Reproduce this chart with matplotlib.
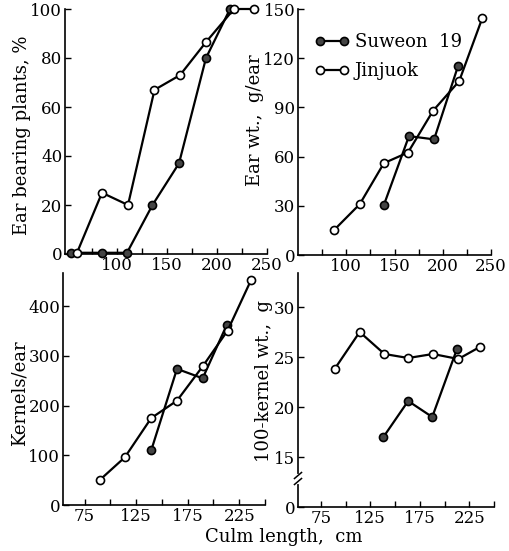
import matplotlib
matplotlib.use("Agg")
import matplotlib.pyplot as plt

plt.rcParams['font.family'] = ['DejaVu Serif']

# Ear bearing plants, %
tl_suw_x = [54, 85, 110, 135.5, 162, 189, 213]
tl_suw_y = [0.5, 0.5, 0.5, 20, 37, 80, 100]
tl_jin_x = [60, 85, 111, 137.5, 163, 189, 217, 237]
tl_jin_y = [0.5, 25, 20, 67, 73, 86.5, 100, 100]

# Ear wt., g/ear
tr_suw_x = [139, 165, 191, 216]
tr_suw_y = [30.5, 72.5, 70.5, 115.5]
tr_jin_x = [87, 114, 139, 164, 190, 217, 241]
tr_jin_y = [15, 31, 56, 62.5, 88, 106, 144.5]

# Kernels/ear
bl_suw_x = [139.6, 164.6, 189.5, 213]
bl_suw_y = [110, 274, 255, 363]
bl_jin_x = [89.5, 114, 139.6, 164.6, 189.5, 213.7, 236.3]
bl_jin_y = [50, 96, 175, 210, 279, 351, 452]

# 100-kernel wt., g  (axis broken: value 10 position labelled 0)
br_suw_x = [138.3, 163.3, 187.6, 212.6]
br_suw_y = [17, 20.6, 19, 25.8]
br_jin_x = [89, 114.3, 139.3, 163.3, 188.3, 214, 235.6]
br_jin_y = [23.8, 27.5, 25.3, 24.9, 25.3, 24.8, 26]

W, H = 510, 551
fig = plt.figure(figsize=(W / 100, H / 100), dpi=100)

def box(l, t, r, b):
    return [l / W, 1 - b / H, (r - l) / W, (b - t) / H]

ax_tl = fig.add_axes(box(65, 9, 267, 254))
ax_tr = fig.add_axes(box(298, 9, 491, 255))
ax_bl = fig.add_axes(box(63, 273, 265, 505))
ax_br = fig.add_axes(box(298, 273, 494, 507))

FS = 12
LFS = 13
lw = 1.6
ms = 5.8

def style(ax):
    for s in ['top', 'right']:
        ax.spines[s].set_visible(False)
    for s in ['left', 'bottom']:
        ax.spines[s].set_linewidth(1.2)
    ax.tick_params(direction='in', length=4, width=1, labelsize=FS, pad=2)

def draw(ax, sx, sy, jx, jy):
    ax.plot(sx, sy, '-o', color='black', lw=lw, ms=ms, mfc='#444444',
            mec='black', mew=1.2, clip_on=False, zorder=3, label='Suweon  19')
    ax.plot(jx, jy, '-o', color='black', lw=lw, ms=ms, mfc='white',
            mec='black', mew=1.2, clip_on=False, zorder=4, label='Jinjuok')

# top-left
style(ax_tl)
draw(ax_tl, tl_suw_x, tl_suw_y, tl_jin_x, tl_jin_y)
ax_tl.set_xlim(48, 250)
ax_tl.set_ylim(0, 100)
ax_tl.set_xticks([75, 100, 125, 150, 175, 200, 225, 250])
ax_tl.set_xticklabels(['', '100', '', '150', '', '200', '', '250'])
ax_tl.set_yticks([0, 20, 40, 60, 80, 100])

# top-right
style(ax_tr)
draw(ax_tr, tr_suw_x, tr_suw_y, tr_jin_x, tr_jin_y)
ax_tr.set_xlim(50, 250)
ax_tr.set_ylim(0, 150)
ax_tr.set_xticks([75, 100, 125, 150, 175, 200, 225, 250])
ax_tr.set_xticklabels(['', '100', '', '150', '', '200', '', '250'])
ax_tr.set_yticks([0, 30, 60, 90, 120, 150])
leg = ax_tr.legend(loc='upper left', bbox_to_anchor=(0.05, 0.93), frameon=False,
                   fontsize=LFS, numpoints=2, handlelength=1.9,
                   handletextpad=0.3, labelspacing=0.6, borderaxespad=0)

# bottom-left
style(ax_bl)
draw(ax_bl, bl_suw_x, bl_suw_y, bl_jin_x, bl_jin_y)
ax_bl.set_xlim(54, 250)
ax_bl.set_ylim(0, 467)
ax_bl.set_xticks([75, 100, 125, 150, 175, 200, 225, 250])
ax_bl.set_xticklabels(['75', '', '125', '', '175', '', '225', ''])
ax_bl.set_yticks([0, 100, 200, 300, 400])

# bottom-right
style(ax_br)
draw(ax_br, br_suw_x, br_suw_y, br_jin_x, br_jin_y)
ax_br.set_xlim(52, 250)
ax_br.set_ylim(10, 33.4)
ax_br.set_xticks([75, 100, 125, 150, 175, 200, 225, 250])
ax_br.set_xticklabels(['75', '', '125', '', '175', '', '225', ''])
ax_br.set_yticks([10, 15, 20, 25, 30])
ax_br.set_yticklabels(['0', '15', '20', '25', '30'])
# axis break marks
trans = ax_br.get_yaxis_transform()
ax_br.plot([0, 0], [12.55, 13.15], transform=trans, color='white', lw=3,
           clip_on=False, zorder=5)
for yb in (12.55, 13.15):
    ax_br.plot([-0.018, 0.018], [yb - 0.3, yb + 0.3], transform=trans,
               color='black', lw=1.1, clip_on=False, zorder=6)

# axis labels
fig.text(22 / W, 1 - 135 / H, 'Ear bearing plants, %', rotation=90,
         ha='center', va='center', fontsize=LFS)
fig.text(255 / W, 1 - 120 / H, 'Ear wt.,  g/ear', rotation=90,
         ha='center', va='center', fontsize=LFS)
fig.text(20 / W, 1 - 393 / H, 'Kernels/ear', rotation=90,
         ha='center', va='center', fontsize=LFS)
fig.text(264 / W, 1 - 381 / H, '100-kernel wt.,  g', rotation=90,
         ha='center', va='center', fontsize=LFS)
fig.text(284 / W, 1 - 537 / H, 'Culm length,  cm', ha='center', va='center',
         fontsize=LFS)

fig.savefig('out.png', dpi=100)
